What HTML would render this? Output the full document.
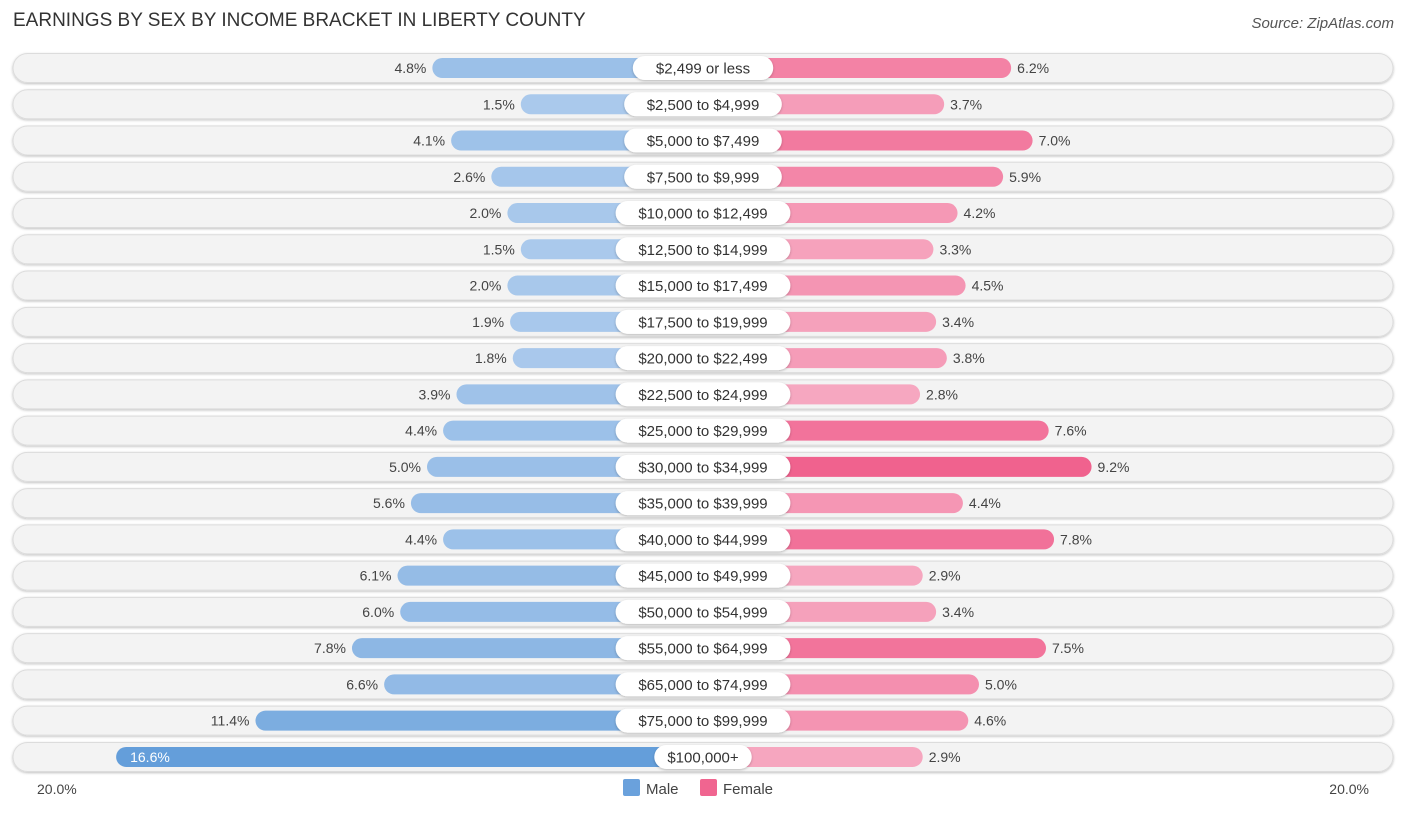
<!DOCTYPE html>
<html><head><meta charset="utf-8"><style>
body{margin:0;background:#fff;font-family:"Liberation Sans",sans-serif;}
#wrap{position:relative;width:1406px;height:813px;overflow:hidden}
.t{position:absolute;left:13px;top:10px;font-size:19px;color:#333}
.src{position:absolute;right:12px;top:15px;font-size:15px;color:#555;font-style:italic}
</style></head><body><div id="wrap">
<div class="t">EARNINGS BY SEX BY INCOME BRACKET IN LIBERTY COUNTY</div>
<div class="src">Source: ZipAtlas.com</div>
<svg id="svg" width="1406" height="813" style="position:absolute;left:0;top:0"></svg>
</div>
<script>
const categories=["$2,499 or less","$2,500 to $4,999","$5,000 to $7,499","$7,500 to $9,999","$10,000 to $12,499","$12,500 to $14,999","$15,000 to $17,499","$17,500 to $19,999","$20,000 to $22,499","$22,500 to $24,999","$25,000 to $29,999","$30,000 to $34,999","$35,000 to $39,999","$40,000 to $44,999","$45,000 to $49,999","$50,000 to $54,999","$55,000 to $64,999","$65,000 to $74,999","$75,000 to $99,999","$100,000+"];
const male=[4.8,1.5,4.1,2.6,2.0,1.5,2.0,1.9,1.8,3.9,4.4,5.0,5.6,4.4,6.1,6.0,7.8,6.6,11.4,16.6];
const female=[6.2,3.7,7.0,5.9,4.2,3.3,4.5,3.4,3.8,2.8,7.6,9.2,4.4,7.8,2.9,3.4,7.5,5.0,4.6,2.9];
const axisLabels=["20.0%","20.0%"];
const NS="http://www.w3.org/2000/svg",svg=document.getElementById('svg');
const cx=703,off=142,k=26.8,y0=68,pitch=36.26;
function mk(t,a,p){const e=document.createElementNS(NS,t);for(const n in a)e.setAttribute(n,a[n]);(p||svg).appendChild(e);return e;}
const defs=mk('defs',{});
const f=mk('filter',{id:'sh',x:'-20%',y:'-40%',width:'140%',height:'180%'},defs);
mk('feDropShadow',{dx:0,dy:1,stdDeviation:1.2,'flood-color':'#000','flood-opacity':0.25},f);
function mix(a,b,t){return 'rgb('+a.map((v,i)=>Math.round(v+(b[i]-v)*t)).join(',')+')';}
const mL=[170,201,236],mH=[100,158,218],fL=[246,167,192],fH=[240,98,142];
const ym=y=>y0+y*pitch;
const xm=v=>cx-off-k*v, xf=v=>cx+off+k*v;
categories.forEach((c,i)=>{
 const y=ym(i);
 const bg=mk('rect',{x:13,y:y-14.5,width:1380,height:29,rx:14.5,fill:'#f3f3f3',stroke:'#dcdcdc','stroke-width':1,filter:'url(#sh)'});
 
 const mb=mk('rect',{x:xm(male[i]),y:y-10,width:cx-xm(male[i]),height:20,rx:10,fill:mix(mL,mH,Math.min(1,(male[i]-1.5)/15))});
 
 const fb=mk('rect',{x:cx,y:y-10,width:xf(female[i])-cx,height:20,rx:10,fill:mix(fL,fH,Math.min(1,(female[i]-2.8)/6.4))});
 
 const lw=c.length*8.6+20;
 const pill=mk('rect',{x:cx-lw/2,y:y-12,width:lw,height:24,rx:12,fill:'#fff',filter:'url(#sh)'});
 
 const lt=mk('text',{x:cx,y:y+5.5,'text-anchor':'middle','font-size':15,fill:'#333'});lt.textContent=c;
 
 const inside=male[i]>14;
 const mt=mk('text',{x:inside?xm(male[i])+14:xm(male[i])-6,y:y+5,'text-anchor':inside?'start':'end','font-size':14,fill:inside?'#fff':'#444'});mt.textContent=male[i].toFixed(1)+'%';
 
 const ft=mk('text',{x:xf(female[i])+6,y:y+5,'font-size':14,fill:'#444'});ft.textContent=female[i].toFixed(1)+'%';
 
});
const a1=mk('text',{x:37,y:794,'font-size':14,fill:'#444'});a1.textContent=axisLabels[0];

const a2=mk('text',{x:1369,y:794,'font-size':14,fill:'#444','text-anchor':'end'});a2.textContent=axisLabels[1];

const l1=mk('rect',{x:623,y:779,width:17,height:17,rx:2,fill:'#6aa1dc'});
const t1=mk('text',{x:646,y:794,'font-size':15,fill:'#444'});t1.textContent='Male';
const l2=mk('rect',{x:700,y:779,width:17,height:17,rx:2,fill:'#f06590'});
const t2=mk('text',{x:723,y:794,'font-size':15,fill:'#444'});t2.textContent='Female';
</script></body></html>
